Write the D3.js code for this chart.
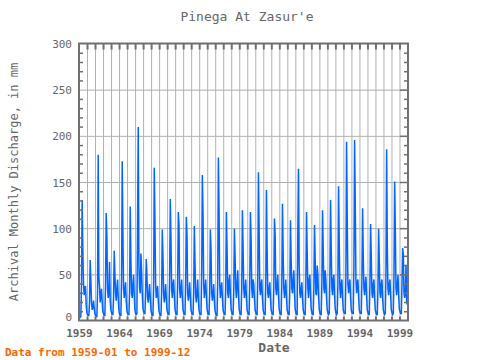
<!DOCTYPE html>
<html>
<head>
<meta charset="utf-8">
<script src="https://cdn.jsdelivr.net/npm/d3@7"></script>
<style>
  body { margin: 0; background: #fff; }
  text { font-family: "DejaVu Sans Mono", monospace; fill: #666; }
</style>
</head>
<body>
<div id="chart"></div>
<script>
// monthly discharge (mm), one row per year, Jan..Dec
const years = d3.range(1959, 2000);
const monthly = [
  [5, 4, 5, 40, 131, 77, 40, 28, 36, 38, 18, 9],      // 1959
  [7, 6, 6, 20, 66, 45, 20, 12, 15, 22, 14, 8],       // 1960
  [6, 5, 5, 30, 180, 48, 37, 20, 28, 35, 20, 10],     // 1961
  [8, 6, 6, 40, 117, 92, 35, 25, 30, 64, 22, 12],     // 1962
  [9, 7, 7, 25, 76, 52, 30, 22, 35, 45, 25, 12],      // 1963
  [7, 6, 6, 45, 173, 97, 35, 25, 35, 42, 22, 11],     // 1964
  [8, 7, 7, 30, 124, 66, 30, 25, 40, 50, 28, 12],     // 1965
  [8, 7, 8, 110, 210, 60, 35, 30, 73, 55, 30, 14],    // 1966
  [10, 8, 8, 30, 67, 50, 25, 20, 30, 40, 25, 12],     // 1967
  [8, 6, 6, 35, 166, 107, 40, 25, 30, 38, 22, 11],    // 1968
  [8, 6, 6, 30, 99, 70, 30, 20, 28, 40, 25, 12],      // 1969
  [9, 7, 7, 45, 132, 89, 35, 25, 40, 45, 28, 13],     // 1970
  [9, 7, 7, 40, 118, 103, 35, 25, 35, 45, 25, 12],    // 1971
  [9, 7, 7, 40, 113, 93, 30, 22, 30, 42, 26, 12],     // 1972
  [9, 7, 7, 30, 103, 63, 28, 20, 30, 45, 25, 12],     // 1973
  [8, 7, 7, 50, 158, 115, 40, 25, 35, 45, 28, 13],    // 1974
  [9, 7, 7, 30, 99, 76, 30, 22, 30, 40, 22, 11],      // 1975
  [8, 6, 6, 40, 177, 120, 40, 25, 35, 42, 25, 12],    // 1976
  [9, 7, 7, 35, 118, 79, 30, 25, 44, 50, 28, 13],     // 1977
  [9, 7, 7, 30, 100, 70, 35, 25, 40, 55, 30, 14],     // 1978
  [9, 7, 7, 35, 120, 79, 35, 25, 35, 45, 25, 12],     // 1979
  [9, 7, 7, 40, 118, 90, 35, 25, 45, 40, 25, 12],     // 1980
  [9, 7, 7, 45, 161, 100, 35, 28, 40, 45, 25, 12],    // 1981
  [9, 7, 7, 40, 142, 77, 30, 25, 35, 42, 25, 12],     // 1982
  [9, 7, 7, 35, 111, 93, 35, 28, 40, 50, 28, 13],     // 1983
  [9, 7, 7, 40, 127, 75, 35, 25, 35, 45, 25, 12],     // 1984
  [9, 7, 7, 35, 109, 65, 35, 30, 45, 55, 30, 13],     // 1985
  [9, 7, 7, 97, 165, 60, 30, 25, 35, 42, 25, 12],     // 1986
  [9, 7, 7, 40, 118, 75, 35, 25, 45, 50, 28, 13],     // 1987
  [9, 7, 7, 35, 104, 65, 30, 28, 60, 50, 28, 13],     // 1988
  [9, 7, 7, 40, 120, 78, 35, 30, 55, 45, 25, 12],     // 1989
  [9, 7, 8, 45, 131, 80, 35, 28, 45, 50, 28, 13],     // 1990
  [9, 7, 8, 40, 146, 85, 35, 25, 40, 45, 25, 12],     // 1991
  [9, 8, 8, 50, 194, 110, 40, 30, 40, 45, 26, 12],    // 1992
  [9, 8, 8, 60, 196, 128, 45, 30, 40, 45, 27, 12],    // 1993
  [9, 8, 8, 45, 122, 70, 35, 28, 40, 48, 27, 12],     // 1994
  [9, 7, 7, 40, 105, 70, 30, 25, 40, 45, 25, 12],     // 1995
  [9, 7, 7, 35, 100, 65, 30, 25, 40, 45, 25, 12],     // 1996
  [9, 7, 8, 50, 186, 80, 35, 28, 40, 45, 27, 12],     // 1997
  [9, 7, 8, 50, 151, 100, 35, 28, 40, 50, 28, 13],    // 1998
  [10, 8, 8, 40, 79, 72, 30, 25, 30, 61, 20, 18]      // 1999
];
const xTickYears = [1959, 1964, 1969, 1974, 1979, 1984, 1989, 1994, 1999];
const yTicks = [0, 50, 100, 150, 200, 250, 300];

const width = 480;
const height = 360;

const series = [];
monthly.forEach((row, i) => {
  row.forEach((v, m) => series.push({ t: years[i] + m / 12, v: v }));
});

const x = d3.scaleLinear().domain([1959, 2000]).range([79.5, 408]);
const y = d3.scaleLinear().domain([0, 300]).range([321, 44]);

const svg = d3.select('#chart')
  .append('svg')
  .attr('width', width)
  .attr('height', height);

const pLeft = 79, pRight = 408, pTop = 43.5, pBottom = 320.5;

// grid
svg.append('g')
  .selectAll('line')
  .data(d3.range(1960, 2000))
  .enter().append('line')
  .attr('x1', d => x(d)).attr('x2', d => x(d))
  .attr('y1', pTop).attr('y2', pBottom)
  .attr('stroke', '#b0b0b0').attr('stroke-width', 1);

svg.append('g')
  .selectAll('line')
  .data(yTicks.slice(1, -1))
  .enter().append('line')
  .attr('x1', pLeft).attr('x2', pRight)
  .attr('y1', d => y(d)).attr('y2', d => y(d))
  .attr('stroke', '#b0b0b0').attr('stroke-width', 1);

// data line
const line = d3.line()
  .x(d => x(d.t))
  .y(d => y(d.v));

svg.append('path')
  .datum(series)
  .attr('fill', 'none')
  .attr('stroke', '#0066ff')
  .attr('stroke-width', 1.5)
  .attr('d', line);

// minor ticks
const tickColor = '#707070';
svg.append('g')
  .selectAll('line')
  .data(d3.range(1960, 2000))
  .enter().append('line')
  .attr('x1', d => x(d)).attr('x2', d => x(d))
  .attr('y1', pTop).attr('y2', pTop + 6)
  .attr('stroke', tickColor).attr('stroke-width', 2);

svg.append('g')
  .selectAll('line')
  .data(d3.range(1960, 2000))
  .enter().append('line')
  .attr('x1', d => x(d)).attr('x2', d => x(d))
  .attr('y1', pBottom).attr('y2', pBottom - 4)
  .attr('stroke', tickColor).attr('stroke-width', 2);

const yMinor = d3.range(10, 300, 10);
svg.append('g')
  .selectAll('line')
  .data(yMinor)
  .enter().append('line')
  .attr('x1', pLeft).attr('x2', d => pLeft + (d % 50 === 0 ? 0 : 4))
  .attr('y1', d => y(d)).attr('y2', d => y(d))
  .attr('stroke', tickColor).attr('stroke-width', 1.5);

svg.append('g')
  .selectAll('line')
  .data(yMinor)
  .enter().append('line')
  .attr('x1', pRight).attr('x2', d => pRight - (d % 50 === 0 ? 8 : 4))
  .attr('y1', d => y(d)).attr('y2', d => y(d))
  .attr('stroke', tickColor).attr('stroke-width', 1.5);

// frame
svg.append('rect')
  .attr('x', pLeft).attr('y', pTop)
  .attr('width', pRight - pLeft).attr('height', pBottom - pTop)
  .attr('fill', 'none')
  .attr('stroke', tickColor)
  .attr('stroke-width', 2);

// tick labels
svg.append('g')
  .selectAll('text')
  .data(yTicks)
  .enter().append('text')
  .attr('x', 72)
  .attr('y', d => Math.min(y(d), 317) + 4)
  .attr('text-anchor', 'end')
  .attr('font-size', 11)
  .text(d => d);

svg.append('g')
  .selectAll('text')
  .data(xTickYears)
  .enter().append('text')
  .attr('x', d => x(d))
  .attr('y', 337)
  .attr('text-anchor', 'middle')
  .attr('font-size', 11)
  .attr('font-weight', 'bold')
  .text(d => d);

// titles
svg.append('text')
  .attr('x', 247).attr('y', 21)
  .attr('text-anchor', 'middle')
  .attr('font-size', 13)
  .text("Pinega At Zasur'e");

svg.append('text')
  .attr('x', 274).attr('y', 352)
  .attr('text-anchor', 'middle')
  .attr('font-size', 13)
  .attr('font-weight', 'bold')
  .text('Date');

svg.append('text')
  .attr('transform', 'translate(18,182) rotate(-90)')
  .attr('text-anchor', 'middle')
  .attr('font-size', 12)
  .text('Archival Monthly Discharge, in mm');

svg.append('text')
  .attr('x', 5).attr('y', 356)
  .attr('font-size', 11)
  .attr('font-weight', 'bold')
  .style('fill', '#ff6600')
  .text('Data from 1959-01 to 1999-12');
</script>
</body>
</html>
